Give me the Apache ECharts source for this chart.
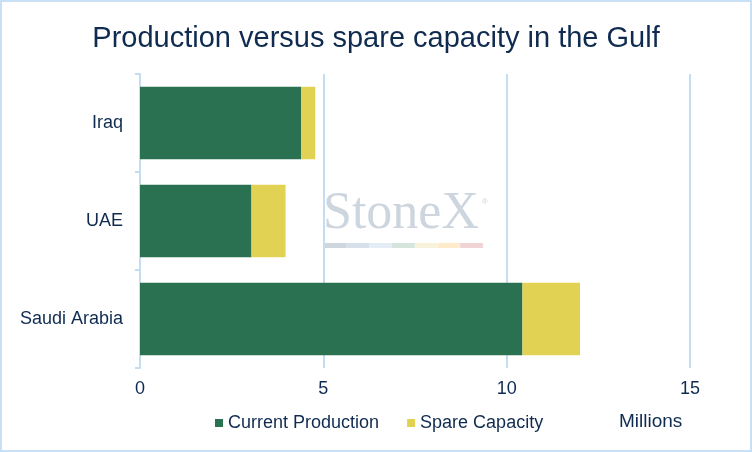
<!DOCTYPE html>
<html>
<head>
<meta charset="utf-8">
<script src="https://cdn.jsdelivr.net/npm/echarts@6/dist/echarts.min.js"></script>
<style>
  html, body { margin: 0; padding: 0; background: #fff; }
  #main { width: 752px; height: 452px; box-sizing: border-box; border: 2px solid #c9dff4; }
</style>
</head>
<body>
<div id="main"></div>
<script>
var myChart = echarts.init(document.getElementById('main'));

// categories bottom to top, as echarts draws a category y axis
var countries = ['Saudi Arabia', 'UAE', 'Iraq'];
var currentProduction = [10.43, 3.04, 4.40];
var spareCapacity = [1.57, 0.93, 0.38];
var xTicks = [0, 5, 10, 15];

var navy = '#0f2b50';
var lightBlue = '#c5ddf3';

// faint StoneX watermark stripe
var stripeColors = ['#cfd6de', '#d6dfea', '#e4edf6', '#d5e4dc', '#f6f3da', '#fdebcc', '#efd3d5'];
var stripe = stripeColors.map(function (c, i) {
    return {
        type: 'rect',
        left: 322 + i * 22.7,
        top: 241,
        shape: { width: 22.7, height: 5 },
        style: { fill: c },
        silent: true
    };
});

option = {
    animation: false,
    title: {
        text: 'Production versus spare capacity in the Gulf',
        left: 'center',
        top: 17,
        textStyle: {
            color: navy,
            fontFamily: 'Liberation Sans',
            fontSize: 29,
            fontWeight: 'normal'
        }
    },
    legend: {
        left: 208,
        top: 407,
        itemWidth: 8,
        itemHeight: 8,
        itemGap: 28,
        icon: 'rect',
        textStyle: { color: navy, fontFamily: 'Liberation Sans', fontSize: 18 },
        data: ['Current Production', 'Spare Capacity']
    },
    grid: {
        left: 138,
        right: 60,
        top: 72,
        bottom: 82,
        containLabel: false
    },
    xAxis: {
        type: 'value',
        min: xTicks[0],
        max: xTicks[xTicks.length - 1],
        interval: 5,
        axisLine: { show: false },
        axisTick: { show: false },
        axisLabel: {
            color: navy,
            fontFamily: 'Liberation Sans',
            fontSize: 18,
            margin: 12
        },
        splitLine: { lineStyle: { color: lightBlue, width: 2 } }
    },
    yAxis: {
        type: 'category',
        data: countries,
        axisLine: { lineStyle: { color: lightBlue, width: 2 } },
        axisTick: { show: true, length: 5, lineStyle: { color: lightBlue, width: 2 } },
        axisLabel: {
            color: navy,
            fontFamily: 'Liberation Sans',
            fontSize: 18,
            margin: 17
        }
    },
    graphic: [
        {
            type: 'text',
            left: 321,
            top: 186,
            silent: true,
            style: {
                text: 'StoneX',
                fill: '#cdd5de',
                font: '52px "Liberation Serif"'
            }
        },
        {
            type: 'text',
            left: 480,
            top: 196,
            silent: true,
            style: {
                text: '®',
                fill: '#cdd5de',
                font: '8px "Liberation Sans"'
            }
        },
        {
            type: 'text',
            left: 617,
            top: 410,
            silent: true,
            style: {
                text: 'Millions',
                fill: navy,
                font: '19px "Liberation Sans"'
            }
        }
    ].concat(stripe),
    series: [
        {
            name: 'Current Production',
            type: 'bar',
            stack: 'total',
            data: currentProduction,
            barWidth: '74%',
            itemStyle: { color: '#2a7152' }
        },
        {
            name: 'Spare Capacity',
            type: 'bar',
            stack: 'total',
            data: spareCapacity,
            barWidth: '74%',
            itemStyle: { color: '#e1d253' }
        }
    ]
};

myChart.setOption(option);
</script>
</body>
</html>
